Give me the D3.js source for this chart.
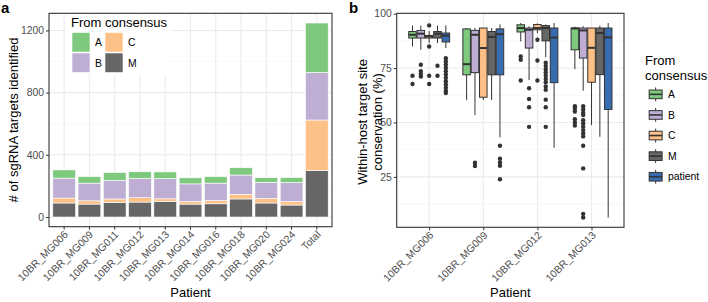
<!DOCTYPE html>
<html>
<head>
<meta charset="utf-8">
<script src="https://cdn.jsdelivr.net/npm/d3@7"></script>
<style>
  body { margin: 0; background: #fff; }
  svg { font-family: "Liberation Sans", Arial, sans-serif; }
  .tick text { fill: #4d4d4d; font-size: 10.4px; }
  .tick line { stroke: #333; }
  .domain { display: none; }
</style>
</head>
<body>
<div id="chart"></div>
<script>
// ---- panel a data ----
const categories = ["10BR_MG006","10BR_MG009","10BR_MG011","10BR_MG012","10BR_MG013",
  "10BR_MG014","10BR_MG016","10BR_MG018","10BR_MG020","10BR_MG024","Total"];
const countA = [53, 42, 51, 43, 43, 39, 42, 47, 30, 32, 318];
const countB = [128, 114, 119, 124, 130, 113, 112, 124, 103, 122, 306];
const countC = [32, 21, 22, 28, 17, 17, 21, 30, 30, 23, 325];
const countM = [90, 83, 94, 96, 100, 83, 85, 116, 90, 77, 299];
const ticksA = [0, 400, 800, 1200];

// ---- panel b data ----
const patients = ["10BR_MG006","10BR_MG009","10BR_MG012","10BR_MG013"];
const groups = ["A","B","C","M","patient"];
// [lower whisker, q1, median, q3, upper whisker] per patient
const statsA = [[85, 88.8, 90.3, 91.8, 94.5], [60.3, 71.9, 76.8, 93, 93.4], [87.2, 91.6, 93.4, 94.9, 95.7], [74.5, 83.4, 93.2, 93.4, 94]];
const statsB = [[83.4, 88.8, 90.8, 92.3, 94.5], [53.4, 72.9, 90.3, 92.3, 93.4], [69.5, 84.2, 92.6, 93.4, 94.2], [64.6, 79.6, 92.3, 93.4, 94.2]];
const statsC = [[86.5, 88.8, 89.5, 90, 92], [60.3, 61.6, 84.2, 93.4, 93.4], [91, 92.6, 93.4, 95, 95.5], [48.8, 68.5, 84.3, 93.4, 93.4]];
const statsM = [[86.5, 88.8, 90.8, 91.8, 94.5], [60.3, 71.9, 89.3, 91.8, 93.4], [80, 87.5, 93.4, 94.5, 95], [43.4, 72, 91.1, 93.4, 94.5]];
const statsP = [[84.2, 87, 89.9, 91.1, 94.6], [43.2, 71.9, 90.6, 93, 95], [38.4, 68.3, 89, 93.4, 95.7], [6.3, 56, 89.1, 93.4, 95.7]];
const outA = [[71.5, 67.7], [], [80.3, 78.8, 69.3], [57.5, 56.3, 55, 51.5, 50, 48.6]];
const outB = [[76.5, 73.6, 72.3, 71.1], [31.5, 30], [65.7, 60.8, 57, 48],
  [57.5, 56, 54.5, 53.4, 51, 49.5, 48, 46.5, 45, 43.6, 39.3, 28.9, 8, 6.3]];
const outC = [[94.6, 84.9, 71.5, 67.7], [], [88, 78.5, 69.3], []];
const outM = [[76.1, 71.5], [], [77.5, 76, 74.5, 73, 71.5, 70, 68.5, 66.5, 65, 60.5, 57, 48], []];
const outP = [[79.5, 78, 76.5, 75, 73.5, 72, 70.5, 69, 67.5, 66, 64.5, 63.5], [39.3, 33.3, 31.6, 30.1, 23.9], [], []];
const ticksB = [25, 50, 75, 100];

const colors = {A: "#7FC97F", B: "#BEAED4", C: "#FDC086", M: "#666666", patient: "#386CB0"};

const W = 708, H = 302;
const svg = d3.select("#chart").append("svg").attr("width", W).attr("height", H);

// ================= panel a =================
const pa = {l: 49, r: 332, t: 13.3, b: 226.7};
const rows = categories.map((c, i) => ({cat: c, A: countA[i], B: countB[i], C: countC[i], M: countM[i]}));
const stacked = d3.stack().keys(["M","C","B","A"])(rows);
const maxA = d3.max(rows, d => d.A + d.B + d.C + d.M);

const xA = d3.scaleBand().domain(categories).range([pa.l, pa.r]).paddingInner(0.1).paddingOuter(0.15);
const yA = d3.scaleLinear().domain([-0.05 * maxA, 1.05 * maxA]).range([pa.b, pa.t]);

const ga = svg.append("g");
ga.append("rect").attr("x", pa.l).attr("y", pa.t).attr("width", pa.r - pa.l).attr("height", pa.b - pa.t).attr("fill", "#fff");
// minor grid
ga.selectAll(".minor").data([200, 600, 1000]).join("line")
  .attr("x1", pa.l).attr("x2", pa.r).attr("y1", d => yA(d)).attr("y2", d => yA(d))
  .attr("stroke", "#f2f2f2").attr("stroke-width", 0.6);
ga.selectAll(".majory").data(ticksA).join("line")
  .attr("x1", pa.l).attr("x2", pa.r).attr("y1", d => yA(d)).attr("y2", d => yA(d))
  .attr("stroke", "#ebebeb").attr("stroke-width", 1.1);
ga.selectAll(".majorx").data(categories).join("line")
  .attr("x1", d => xA(d) + xA.bandwidth() / 2).attr("x2", d => xA(d) + xA.bandwidth() / 2)
  .attr("y1", pa.t).attr("y2", pa.b)
  .attr("stroke", "#ebebeb").attr("stroke-width", 1.1);

ga.selectAll(".layer").data(stacked).join("g")
  .attr("fill", d => colors[d.key])
  .selectAll("rect").data(d => d).join("rect")
  .attr("x", d => xA(d.data.cat))
  .attr("width", xA.bandwidth())
  .attr("y", d => yA(d[1]))
  .attr("height", d => yA(d[0]) - yA(d[1]))
  .attr("stroke", "#fff").attr("stroke-width", 0.6);

// legend a
const lgA = ga.append("g");
lgA.append("rect").attr("x", 66).attr("y", 15).attr("width", 104).attr("height", 60).attr("fill", "#fff");
lgA.append("text").attr("x", 71).attr("y", 27).attr("font-size", 13).text("From consensus");
const keysA = [{k: "A", x: 72, y: 32.5}, {k: "C", x: 105, y: 32.5}, {k: "B", x: 72, y: 53}, {k: "M", x: 105, y: 53}];
keysA.forEach(d => {
  lgA.append("rect").attr("x", d.x).attr("y", d.y).attr("width", 18).attr("height", 19.5)
    .attr("fill", colors[d.k]).attr("stroke", "#fff").attr("stroke-width", 0.6);
  lgA.append("text").attr("x", d.x + 23).attr("y", d.y + 13.5).attr("font-size", 10.4).attr("fill", "#000").text(d.k);
});

ga.append("rect").attr("x", pa.l).attr("y", pa.t).attr("width", pa.r - pa.l).attr("height", pa.b - pa.t)
  .attr("fill", "none").attr("stroke", "#333").attr("stroke-width", 1.1);

ga.append("g").attr("transform", `translate(${pa.l},0)`)
  .call(d3.axisLeft(yA).tickValues(ticksA).tickFormat(d3.format("d")).tickSize(3).tickPadding(2));
const axA = ga.append("g").attr("transform", `translate(0,${pa.b})`)
  .call(d3.axisBottom(xA).tickSize(3).tickPadding(2));
axA.selectAll(".tick text")
  .attr("text-anchor", "end").attr("dy", 0).attr("y", 0)
  .attr("transform", "translate(4.5,8.5) rotate(-45)");

ga.append("text").attr("transform", `translate(18,${(pa.t + pa.b) / 2}) rotate(-90)`)
  .attr("text-anchor", "middle").attr("font-size", 13).text("# of sgRNA targets identified");
ga.append("text").attr("x", (pa.l + pa.r) / 2).attr("y", 297).attr("text-anchor", "middle")
  .attr("font-size", 13).text("Patient");
ga.append("text").attr("x", 1).attr("y", 13).attr("font-size", 15).attr("font-weight", "bold").text("a");

// ================= panel b =================
const pb = {l: 396.7, r: 624, t: 13.3, b: 227.3};
const allStats = [statsA, statsB, statsC, statsM, statsP];
const allOut = [outA, outB, outC, outM, outP];
const boxes = [];
groups.forEach((g, gi) => patients.forEach((p, pi) => {
  const s = allStats[gi][pi];
  boxes.push({group: g, patient: p, lo: s[0], q1: s[1], med: s[2], q3: s[3], hi: s[4], out: allOut[gi][pi]});
}));
const vals = boxes.flatMap(b => [b.lo, b.hi, ...b.out]);
const vmin = d3.min(vals), vmax = d3.max(vals), span = vmax - vmin;

const xB = d3.scalePoint().domain(patients).range([pb.l, pb.r]).padding(0.6);
const dodge = d3.scaleBand().domain(groups).range([-0.385 * xB.step(), 0.385 * xB.step()]);
const yB = d3.scaleLinear().domain([vmin - 0.05 * span, vmax + 0.05 * span]).range([pb.b, pb.t]);

const gb = svg.append("g");
gb.selectAll(".minor").data([12.5, 37.5, 62.5, 87.5]).join("line")
  .attr("x1", pb.l).attr("x2", pb.r).attr("y1", d => yB(d)).attr("y2", d => yB(d))
  .attr("stroke", "#f2f2f2").attr("stroke-width", 0.6);
gb.selectAll(".majory").data(ticksB).join("line")
  .attr("x1", pb.l).attr("x2", pb.r).attr("y1", d => yB(d)).attr("y2", d => yB(d))
  .attr("stroke", "#ebebeb").attr("stroke-width", 1.1);
gb.selectAll(".majorx").data(patients).join("line")
  .attr("x1", d => xB(d)).attr("x2", d => xB(d)).attr("y1", pb.t).attr("y2", pb.b)
  .attr("stroke", "#ebebeb").attr("stroke-width", 1.1);

const bw = dodge.bandwidth();
const bx = gb.selectAll(".box").data(boxes).join("g")
  .attr("transform", d => `translate(${xB(d.patient) + dodge(d.group) + bw / 2},0)`);
bx.append("line").attr("y1", d => yB(d.hi)).attr("y2", d => yB(d.q3)).attr("stroke", "#333").attr("stroke-width", 1);
bx.append("line").attr("y1", d => yB(d.q1)).attr("y2", d => yB(d.lo)).attr("stroke", "#333").attr("stroke-width", 1);
bx.append("rect").attr("x", -bw / 2 + 0.4).attr("width", bw - 0.8)
  .attr("y", d => yB(d.q3)).attr("height", d => Math.max(0.5, yB(d.q1) - yB(d.q3)))
  .attr("fill", d => colors[d.group]).attr("stroke", "#333").attr("stroke-width", 1);
bx.append("line").attr("x1", -bw / 2 + 0.4).attr("x2", bw / 2 - 0.4)
  .attr("y1", d => yB(d.med)).attr("y2", d => yB(d.med)).attr("stroke", "#333").attr("stroke-width", 2);
bx.selectAll("circle").data(d => d.out).join("circle")
  .attr("cx", 0).attr("cy", d => yB(d)).attr("r", 2.2).attr("fill", "#333");

gb.append("rect").attr("x", pb.l).attr("y", pb.t).attr("width", pb.r - pb.l).attr("height", pb.b - pb.t)
  .attr("fill", "none").attr("stroke", "#333").attr("stroke-width", 1.1);

gb.append("g").attr("transform", `translate(${pb.l},0)`)
  .call(d3.axisLeft(yB).tickValues(ticksB).tickSize(3).tickPadding(2));
const axB = gb.append("g").attr("transform", `translate(0,${pb.b})`)
  .call(d3.axisBottom(xB).tickSize(3).tickPadding(2));
axB.selectAll(".tick text")
  .attr("text-anchor", "end").attr("dy", 0).attr("y", 0)
  .attr("transform", "translate(4.5,8.5) rotate(-45)");

const yt = gb.append("text").attr("transform", `translate(367,122) rotate(-90)`)
  .attr("text-anchor", "middle").attr("font-size", 13);
yt.append("tspan").attr("x", 0).attr("dy", 0).text("Within-host target site");
yt.append("tspan").attr("x", 0).attr("dy", 15).text("conservation (%)");
gb.append("text").attr("x", (pb.l + pb.r) / 2).attr("y", 297).attr("text-anchor", "middle")
  .attr("font-size", 13).text("Patient");
gb.append("text").attr("x", 349).attr("y", 13).attr("font-size", 15).attr("font-weight", "bold").text("b");

// legend b
const lgB = gb.append("g");
lgB.append("text").attr("x", 645).attr("y", 64.5).attr("font-size", 13).text("From");
lgB.append("text").attr("x", 645).attr("y", 79.5).attr("font-size", 13).text("consensus");
groups.forEach((g, i) => {
  const ky = 85.7 + i * 20.6, kx = 647, ks = 17.3;
  const k = lgB.append("g").attr("transform", `translate(${kx},${ky})`);
  k.append("line").attr("x1", ks / 2).attr("x2", ks / 2).attr("y1", ks * 0.1).attr("y2", ks * 0.9).attr("stroke", "#333");
  k.append("rect").attr("x", ks * 0.125).attr("width", ks * 0.75).attr("y", ks * 0.25).attr("height", ks * 0.5)
    .attr("fill", colors[g]).attr("stroke", "#333");
  k.append("line").attr("x1", ks * 0.125).attr("x2", ks * 0.875).attr("y1", ks / 2).attr("y2", ks / 2)
    .attr("stroke", "#333").attr("stroke-width", 1.6);
  lgB.append("text").attr("x", 668).attr("y", ky + ks / 2 + 3.7).attr("font-size", 10.4).text(g);
});
</script>
</body>
</html>
